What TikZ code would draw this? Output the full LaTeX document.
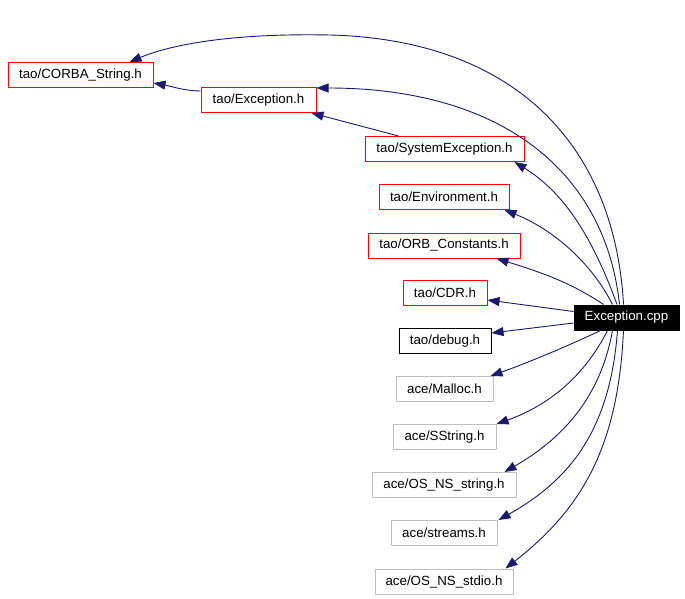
\documentclass[tikz,border=0pt]{standalone}
\usepackage{fontspec}
\setmainfont{Liberation Sans}
\usetikzlibrary{arrows.meta}
\definecolor{edgeblue}{HTML}{191970}
\definecolor{boxred}{HTML}{FF0000}
\definecolor{boxgray}{HTML}{BFBFBF}
\begin{document}
\begin{tikzpicture}[x=1pt,y=-1pt,
  hdr/.style={draw, line width=1pt, minimum height=25pt, inner sep=0pt, font=\fontsize{13.3}{16}\selectfont},
  redbox/.style={hdr, draw=boxred},
  graybox/.style={hdr, draw=boxgray},
  blackbox/.style={hdr, draw=black},
  cppbox/.style={hdr, fill=black, draw=black, text=white},
  dep/.style={draw=edgeblue, line width=0.9pt, -{Triangle[length=12pt,width=9pt]}}
]
\fill[white] (0,0) rectangle (685,599);
\useasboundingbox (0,0) rectangle (685,599);

\node[redbox, minimum width=145pt] (cs) at (80.5,75) {tao/CORBA\_String.h};
\node[redbox, minimum width=115pt] (eh) at (258.5,100) {tao/Exception.h};
\node[redbox, minimum width=159pt] (sys) at (444.5,149) {tao/SystemException.h};
\node[redbox, minimum width=130pt] (env) at (444,197) {tao/Environment.h};
\node[redbox, minimum width=152pt] (orb) at (444,245.5) {tao/ORB\_Constants.h};
\node[redbox, minimum width=84pt] (cdr) at (445,293) {tao/CDR.h};
\node[cppbox, minimum width=105pt] (cpp) at (626.5,317.5) {Exception.cpp};
\node[blackbox, minimum width=92pt] (dbg) at (445,341) {tao/debug.h};
\node[graybox, minimum width=97pt] (mal) at (444.5,389) {ace/Malloc.h};
\node[graybox, minimum width=103pt] (sstr) at (444.5,437) {ace/SString.h};
\node[graybox, minimum width=144pt] (nss) at (444,485) {ace/OS\_NS\_string.h};
\node[graybox, minimum width=106pt] (str) at (444,533) {ace/streams.h};
\node[graybox, minimum width=138pt] (nsi) at (444,581.5) {ace/OS\_NS\_stdio.h};

% edges
\draw[dep] ([xshift=-3pt]cpp.north) .. controls (615,150) and (520,40) .. (330,35)
  .. controls (230,33) and (170,45) .. ([xshift=49pt]cs.north);
\draw[dep] ([xshift=-7pt]cpp.north) .. controls (605,170) and (500,88) .. ([yshift=-1pt]eh.north east);
\draw[dep] ([xshift=-46pt]sys.north) -- ([xshift=-5pt]eh.south east);
\draw[dep] ([yshift=9pt]eh.west) .. controls (185,91) and (170,86) .. ([yshift=-8pt]cs.east);
\draw[dep] ([xshift=-9.5pt]cpp.north) .. controls (590,230) and (560,190) .. ([xshift=-10pt]sys.south east);
\draw[dep] ([xshift=-14pt]cpp.north) .. controls (590,260) and (550,228) .. ([xshift=-5pt]env.south east);
\draw[dep] ([xshift=-23pt]cpp.north) .. controls (570,282) and (540,272) .. ([xshift=-24pt]orb.south east);
\draw[dep] ([yshift=6pt]cpp.west) -- ([yshift=-7pt]cdr.east);
\draw[dep] ([yshift=-5.5pt]cpp.west) -- ([yshift=8pt]dbg.east);
\draw[dep] ([xshift=-26pt]cpp.south) .. controls (570,345) and (530,362) .. ([xshift=-3pt]mal.north east);
\draw[dep] ([xshift=-19pt]cpp.south) .. controls (585,375) and (550,405) .. ([xshift=0pt]sstr.north east);
\draw[dep] ([xshift=-14pt]cpp.south) .. controls (600,400) and (560,440) .. ([xshift=-12pt]nss.north east);
\draw[dep] ([xshift=-9pt]cpp.south) .. controls (610,430) and (570,480) .. ([xshift=1pt]str.north east);
\draw[dep] ([xshift=-3pt]cpp.south) .. controls (618,450) and (580,510) .. ([xshift=-8pt]nsi.north east);
\end{tikzpicture}
\end{document}
